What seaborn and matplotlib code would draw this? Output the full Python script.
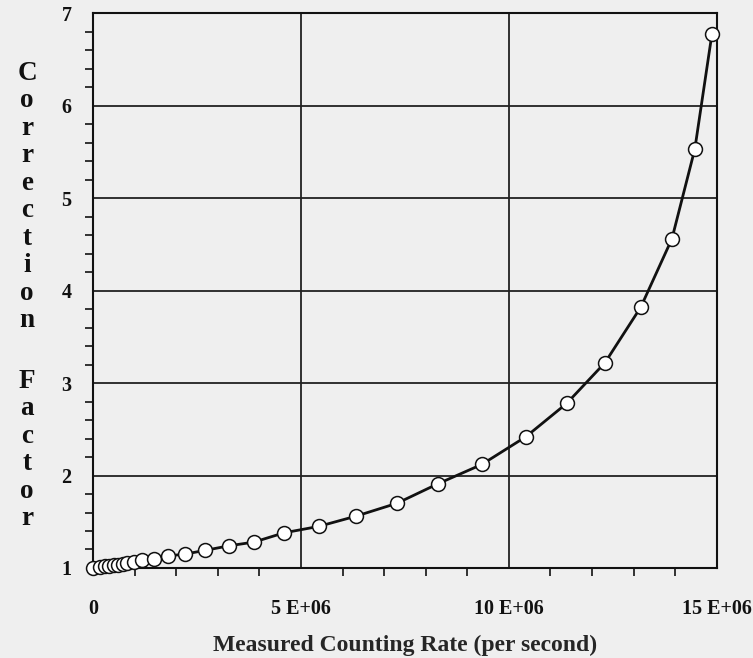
import matplotlib
matplotlib.use("Agg")
import matplotlib.pyplot as plt
import seaborn as sns
import pandas as pd
from matplotlib.ticker import MultipleLocator, FixedLocator, FixedFormatter

# Data
rate = [0.0, 0.17e6, 0.29e6, 0.38e6, 0.50e6, 0.60e6, 0.72e6, 0.82e6, 0.99e6,
        1.18e6, 1.47e6, 1.80e6, 2.21e6, 2.69e6, 3.27e6, 3.87e6, 4.59e6,
        5.43e6, 6.32e6, 7.31e6, 8.29e6, 9.35e6, 10.41e6, 11.39e6, 12.31e6,
        13.17e6, 13.92e6, 14.47e6, 14.88e6]
factor = [1.00, 1.01, 1.02, 1.02, 1.03, 1.03, 1.04, 1.05, 1.06,
          1.09, 1.10, 1.13, 1.15, 1.19, 1.24, 1.28, 1.38,
          1.45, 1.56, 1.70, 1.91, 2.12, 2.42, 2.78, 3.22,
          3.82, 4.56, 5.53, 6.77]

x_ticks = [0, 5e6, 10e6, 15e6]
x_tick_labels = ["0", "5 E+06", "10 E+06", "15 E+06"]
y_ticks = [1, 2, 3, 4, 5, 6, 7]
y_tick_labels = ["1", "2", "3", "4", "5", "6", "7"]
x_label = "Measured Counting Rate (per second)"
y_label_top = "Correction"
y_label_bottom = "Factor"

df = pd.DataFrame({"rate": rate, "factor": factor})

sns.set_theme(style="white")
plt.rcParams["font.family"] = ["Liberation Serif", "DejaVu Serif"]
plt.rcParams["font.weight"] = "bold"

bg = "#efefef"
fig = plt.figure(figsize=(7.53, 6.58), dpi=100, facecolor=bg)
ax = fig.add_axes([0.1235, 0.1368, 0.952 - 0.1235, 0.980 - 0.1368])
ax.set_facecolor(bg)

sns.lineplot(data=df, x="rate", y="factor", ax=ax, color="#111111",
             linewidth=2.0, marker="o", markersize=10,
             markerfacecolor="white", markeredgecolor="#111111",
             markeredgewidth=1.1, clip_on=False, zorder=5)

ax.set_xlim(0, 15e6)
ax.set_ylim(1, 7)

ax.xaxis.set_major_locator(FixedLocator(x_ticks))
ax.xaxis.set_major_formatter(FixedFormatter(x_tick_labels))
ax.xaxis.set_minor_locator(MultipleLocator(1e6))
ax.yaxis.set_major_locator(FixedLocator(y_ticks))
ax.yaxis.set_major_formatter(FixedFormatter(y_tick_labels))
ax.yaxis.set_minor_locator(MultipleLocator(0.2))

ax.tick_params(axis="both", which="both", direction="out", colors="#111111")
ax.tick_params(axis="y", which="major", length=10, width=1.3, pad=5.5,
               labelsize=14.5)
ax.tick_params(axis="y", which="minor", length=6, width=1.2, left=True)
ax.tick_params(axis="x", which="major", length=8, width=1.3, pad=14,
               labelsize=14.5)
ax.tick_params(axis="x", which="minor", length=6, width=1.2, bottom=True)
for lab in ax.get_xticklabels() + ax.get_yticklabels():
    lab.set_fontweight("bold")

ax.grid(True, which="major", color="#222222", linewidth=1.3)
ax.grid(False, which="minor")
for sp in ax.spines.values():
    sp.set_visible(True)
    sp.set_color("#111111")
    sp.set_linewidth(1.5)

ax.set_xlabel(x_label, fontsize=17, fontweight="bold", labelpad=11.5)
ax.set_ylabel("")

fig.text(27 / 753, 1 - 61 / 658, "\n".join(y_label_top), ha="center",
         va="top", fontsize=19.5, fontweight="bold", linespacing=1.13,
         color="#111111")
fig.text(27 / 753, 1 - 369 / 658, "\n".join(y_label_bottom), ha="center",
         va="top", fontsize=19.5, fontweight="bold", linespacing=1.13,
         color="#111111")

fig.savefig("out.png", dpi=100, facecolor=bg)
